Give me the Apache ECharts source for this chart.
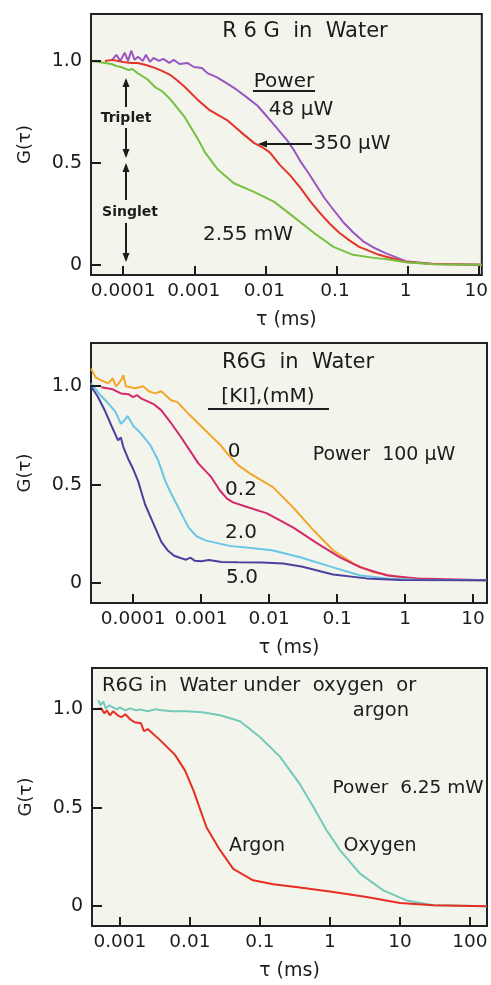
<!DOCTYPE html>
<html>
<head>
<meta charset="utf-8">
<script src="https://cdn.jsdelivr.net/npm/echarts@6/dist/echarts.min.js"></script>
<style>
  html, body { margin: 0; padding: 0; background: #fff; }
  #chart { width: 491px; height: 985px; }
</style>
</head>
<body>
<div id="chart"></div>
<script>
// panel 1: R6G in water, three excitation powers
const tau48 = [6.8e-5, 8e-5, 9.1e-5, 1.05e-4, 1.17e-4, 1.3e-4, 1.45e-4, 1.62e-4, 1.9e-4, 2.1e-4, 2.4e-4, 2.7e-4, 3.2e-4, 3.7e-4, 4.5e-4, 5.2e-4, 6.3e-4, 8.1e-4, 1.0e-3, 1.3e-3, 1.56e-3, 2.1e-3, 2.95e-3, 4.0e-3, 5.7e-3, 8e-3, 0.011, 0.015, 0.021, 0.026, 0.032, 0.042, 0.05, 0.07, 0.095, 0.13, 0.18, 0.25, 0.35, 0.52, 1.0, 2.5, 12];
const g48 = [1.0, 1.03, 1.0, 1.04, 1.0, 1.05, 1.005, 1.02, 1.0, 1.03, 0.995, 1.015, 1.0, 1.01, 0.99, 1.005, 0.985, 0.99, 0.97, 0.965, 0.94, 0.92, 0.89, 0.86, 0.82, 0.78, 0.725, 0.67, 0.61, 0.564, 0.51, 0.45, 0.41, 0.33, 0.27, 0.21, 0.16, 0.115, 0.085, 0.057, 0.018, 0.004, 0];

const tau350 = [5.5e-5, 7e-5, 1.0e-4, 1.3e-4, 1.6e-4, 2.1e-4, 2.8e-4, 3.6e-4, 4.7e-4, 5.8e-4, 7.4e-4, 1.13e-3, 1.65e-3, 2.95e-3, 4.6e-3, 7.1e-3, 0.0095, 0.012, 0.0165, 0.023, 0.032, 0.045, 0.061, 0.085, 0.115, 0.16, 0.22, 0.42, 1.0, 2.5, 12];
const g350 = [1.0, 1.005, 0.995, 0.99, 0.99, 0.98, 0.966, 0.95, 0.93, 0.905, 0.873, 0.81, 0.76, 0.71, 0.652, 0.598, 0.575, 0.55, 0.49, 0.44, 0.38, 0.31, 0.255, 0.2, 0.157, 0.12, 0.088, 0.049, 0.014, 0.004, 0];

const tau255 = [3.5e-5, 4.5e-5, 5.5e-5, 6.8e-5, 8e-5, 9.3e-5, 1.2e-4, 1.35e-4, 1.6e-4, 2.2e-4, 2.8e-4, 3.6e-4, 4.7e-4, 7.4e-4, 1.13e-3, 1.45e-3, 2.15e-3, 3.7e-3, 7.1e-3, 0.0136, 0.026, 0.05, 0.095, 0.18, 0.35, 0.52, 1.0, 2.5, 12];
const g255 = [1.0, 0.995, 0.99, 0.985, 0.975, 0.97, 0.955, 0.96, 0.94, 0.91, 0.873, 0.85, 0.81, 0.725, 0.62, 0.55, 0.47, 0.40, 0.358, 0.31, 0.235, 0.157, 0.088, 0.049, 0.034, 0.028, 0.012, 0.003, 0];

// panel 2: KI quenching at 100 uW
const tauKI0 = [2.4e-5, 2.8e-5, 3.4e-5, 4.3e-5, 5.0e-5, 5.6e-5, 6.6e-5, 7.2e-5, 7.8e-5, 1.07e-4, 1.4e-4, 1.7e-4, 2.1e-4, 2.6e-4, 3.6e-4, 4.5e-4, 6.4e-4, 1.15e-3, 1.95e-3, 2.4e-3, 3.5e-3, 5.2e-3, 0.0115, 0.0224, 0.045, 0.087, 0.174, 0.34, 0.85, 2.5, 16];
const gKI0 = [1.09, 1.046, 1.03, 1.015, 1.04, 1.0, 1.03, 1.056, 1.0, 0.99, 1.0, 0.975, 0.964, 0.975, 0.929, 0.92, 0.863, 0.777, 0.70, 0.66, 0.60, 0.558, 0.487, 0.386, 0.269, 0.168, 0.10, 0.056, 0.03, 0.018, 0.015];

const tauKI02 = [3.4e-5, 5e-5, 6.6e-5, 8.5e-5, 1.0e-4, 1.15e-4, 1.3e-4, 1.6e-4, 2.0e-4, 2.6e-4, 3.5e-4, 5.1e-4, 9.1e-4, 1.4e-3, 1.9e-3, 2.4e-3, 2.95e-3, 4.5e-3, 9.3e-3, 0.0224, 0.051, 0.11, 0.22, 0.55, 1.5, 16];
const gKI02 = [0.995, 0.985, 0.964, 0.96, 0.945, 0.955, 0.939, 0.925, 0.91, 0.878, 0.82, 0.74, 0.609, 0.54, 0.47, 0.43, 0.411, 0.39, 0.355, 0.284, 0.203, 0.132, 0.081, 0.04, 0.025, 0.015];

const tauKI20 = [2.4e-5, 3.2e-5, 4.3e-5, 5.5e-5, 6.6e-5, 7.6e-5, 8.3e-5, 1.0e-4, 1.31e-4, 1.8e-4, 2.33e-4, 2.96e-4, 3.6e-4, 4.6e-4, 6.5e-4, 8.5e-4, 1.15e-3, 2.6e-3, 5e-3, 0.011, 0.0286, 0.087, 0.22, 0.55, 1.5, 16];
const gKI20 = [1.015, 0.96, 0.914, 0.87, 0.81, 0.83, 0.85, 0.80, 0.76, 0.70, 0.625, 0.52, 0.457, 0.386, 0.284, 0.24, 0.218, 0.19, 0.18, 0.168, 0.132, 0.081, 0.04, 0.025, 0.018, 0.015];

const tauKI50 = [2.4e-5, 3.0e-5, 3.8e-5, 4.8e-5, 6.0e-5, 6.6e-5, 7.2e-5, 8.5e-5, 1.0e-4, 1.18e-4, 1.5e-4, 2.1e-4, 2.6e-4, 3.2e-4, 4.0e-4, 5.1e-4, 6e-4, 7e-4, 8e-4, 1.0e-3, 1.3e-3, 2e-3, 3.5e-3, 8e-3, 0.016, 0.03, 0.087, 0.27, 0.84, 16];
const gKI50 = [1.0, 0.95, 0.88, 0.80, 0.726, 0.74, 0.69, 0.63, 0.58, 0.52, 0.40, 0.284, 0.21, 0.168, 0.14, 0.127, 0.12, 0.13, 0.115, 0.112, 0.118, 0.108, 0.107, 0.106, 0.10, 0.085, 0.045, 0.025, 0.017, 0.015];

// panel 3: oxygen vs argon at 6.25 mW
const tauO2 = [4.9e-4, 5.3e-4, 5.8e-4, 6.3e-4, 7e-4, 8e-4, 9e-4, 1.0e-3, 1.2e-3, 1.4e-3, 1.7e-3, 1.93e-3, 2.5e-3, 3.2e-3, 4e-3, 5.5e-3, 8.95e-3, 0.015, 0.027, 0.052, 0.1, 0.193, 0.372, 0.578, 0.895, 1.39, 2.69, 5.78, 12.4, 30, 175];
const gO2 = [1.047, 1.02, 1.04, 1.005, 1.02, 1.01, 1.0, 1.01, 0.995, 1.005, 0.995, 1.0, 0.99, 1.0, 0.995, 0.99, 0.99, 0.985, 0.97, 0.94, 0.86, 0.76, 0.62, 0.505, 0.386, 0.285, 0.166, 0.081, 0.03, 0.005, 0];

const tauAr = [4.5e-4, 5.4e-4, 6e-4, 6.5e-4, 7.2e-4, 8e-4, 9.3e-4, 1.05e-3, 1.2e-3, 1.4e-3, 1.63e-3, 2.0e-3, 2.2e-3, 2.5e-3, 3.85e-3, 6.1e-3, 8.5e-3, 0.0112, 0.0173, 0.027, 0.0416, 0.08, 0.155, 0.372, 1.12, 3.34, 10, 30, 175];
const gAr = [1.0, 1.005, 0.98, 0.995, 0.97, 0.99, 0.97, 0.96, 0.975, 0.95, 0.934, 0.93, 0.89, 0.9, 0.84, 0.77, 0.69, 0.59, 0.40, 0.285, 0.19, 0.132, 0.112, 0.095, 0.073, 0.047, 0.017, 0.005, 0];

// tick positions
const yTicks = [0, 0.5, 1.0];
const tauTicks12 = [1e-4, 1e-3, 0.01, 0.1, 1, 10];
const tauTicks3 = [1e-3, 0.01, 0.1, 1, 10, 100];

const FONT = "DejaVu Sans";
const INK = "#1c1c1c";

function zip(xs, ys) {
  return xs.map((x, i) => [x, ys[i]]);
}

function tauLabel(v) {
  const lg = Math.log10(v);
  const e = Math.round(lg);
  if (Math.abs(lg - e) > 1e-6) return "";
  return e < 0 ? v.toFixed(-e) : String(Math.round(v));
}

function gLabel(v) {
  if (Math.abs(v) < 1e-9) return "0";
  if (Math.abs(v - 0.5) < 1e-9 || Math.abs(v - 1) < 1e-9) return v.toFixed(1);
  return "";
}

const grids = [
  { left: 91, top: 14, width: 394, height: 261 },
  { left: 91, top: 343, width: 396, height: 260 },
  { left: 92, top: 668, width: 395, height: 258 },
];
const xRanges = [[3.5e-5, 12], [2.4e-5, 16], [4e-4, 175]];
const yRanges = [[-0.05, 1.23], [-0.1, 1.22], [-0.1, 1.21]];
const xTickSets = [tauTicks12, tauTicks12, tauTicks3];

const chart = echarts.init(document.getElementById("chart"));

const option = {
  animation: false,
  backgroundColor: "#ffffff",
  grid: grids.map((g) => ({
    ...g,
    show: true,
    backgroundColor: "#f3f5ec",
    borderColor: "#222",
    borderWidth: 2,
  })),
  xAxis: xRanges.map((r, i) => ({
    type: "log",
    gridIndex: i,
    min: r[0],
    max: r[1],
    name: "τ (ms)",
    nameLocation: "middle",
    nameGap: 36,
    nameTextStyle: { fontFamily: FONT, fontSize: 19, color: INK },
    axisLine: { show: false, onZero: false },
    axisTick: { show: false },
    axisLabel: {
      formatter: tauLabel,
      showMinLabel: false,
      showMaxLabel: false,
      fontFamily: FONT,
      fontSize: 18.5,
      color: INK,
      margin: 7,
    },
    splitLine: { show: false },
    minorTick: { show: false },
  })),
  yAxis: yRanges.map((r, i) => ({
    type: "value",
    gridIndex: i,
    min: r[0],
    max: r[1],
    splitNumber: 2,
    name: "G(τ)",
    nameLocation: "middle",
    nameGap: 57,
    nameTextStyle: { fontFamily: FONT, fontSize: 18, color: INK },
    axisLine: { show: false, onZero: false },
    axisTick: { show: false },
    axisLabel: {
      formatter: gLabel,
      showMinLabel: false,
      showMaxLabel: false,
      fontFamily: FONT,
      fontSize: 19,
      color: INK,
      margin: 9,
    },
    splitLine: { show: false },
  })),
  series: [
    { name: "48 μW", data: zip(tau48, g48), color: "#9a55c4", xAxisIndex: 0, yAxisIndex: 0 },
    { name: "350 μW", data: zip(tau350, g350), color: "#e5322a", xAxisIndex: 0, yAxisIndex: 0 },
    { name: "2.55 mW", data: zip(tau255, g255), color: "#78c043", xAxisIndex: 0, yAxisIndex: 0 },
    { name: "KI 0", data: zip(tauKI0, gKI0), color: "#f2a62a", xAxisIndex: 1, yAxisIndex: 1 },
    { name: "KI 0.2", data: zip(tauKI02, gKI02), color: "#d4286c", xAxisIndex: 1, yAxisIndex: 1 },
    { name: "KI 2.0", data: zip(tauKI20, gKI20), color: "#69c6e6", xAxisIndex: 1, yAxisIndex: 1 },
    { name: "KI 5.0", data: zip(tauKI50, gKI50), color: "#4d3f9e", xAxisIndex: 1, yAxisIndex: 1 },
    { name: "Oxygen", data: zip(tauO2, gO2), color: "#74c9b9", xAxisIndex: 2, yAxisIndex: 2 },
    { name: "Argon", data: zip(tauAr, gAr), color: "#e62e22", xAxisIndex: 2, yAxisIndex: 2 },
  ].map((s) => ({
    ...s,
    type: "line",
    showSymbol: false,
    lineStyle: { width: 2, color: s.color },
    z: 3,
  })),
};

// annotations placed on the picture
function txt(text, x, y, size, align, extra) {
  return {
    type: "text",
    z: 10,
    style: Object.assign({
      text: text,
      x: x,
      y: y,
      font: (size || 18) + "px '" + FONT + "'",
      fill: INK,
      align: align || "center",
      verticalAlign: "middle",
    }, extra || {}),
  };
}
function seg(x1, y1, x2, y2) {
  return { type: "line", z: 10, shape: { x1, y1, x2, y2 }, style: { stroke: INK, lineWidth: 2 } };
}
function head(x, y, dir) {
  // small filled arrow head, tip at (x, y)
  let pts;
  if (dir === "up") pts = [[x, y], [x - 3.5, y + 9], [x + 3.5, y + 9]];
  else if (dir === "down") pts = [[x, y], [x - 3.5, y - 9], [x + 3.5, y - 9]];
  else pts = [[x, y], [x + 9, y - 3.5], [x + 9, y + 3.5]];
  return { type: "polygon", z: 10, shape: { points: pts }, style: { fill: INK } };
}

const notes = [
  // panel 1
  txt("R 6 G  in  Water", 305, 32, 21),
  txt("Power", 284, 82, 20),
  seg(253, 91, 315, 91),
  txt("48 μW", 301, 110, 20),
  txt("350 μW", 352, 144, 20),
  seg(262, 144, 312, 144),
  head(258, 144, "left"),
  txt("2.55 mW", 248, 235, 20),
  txt("Triplet", 126, 118, 14, "center", { font: "bold 14px '" + FONT + "'" }),
  seg(126, 80, 126, 107),
  head(126, 78, "up"),
  seg(126, 128, 126, 156),
  head(126, 158, "down"),
  txt("Singlet", 130, 212, 14, "center", { font: "bold 14px '" + FONT + "'" }),
  seg(126, 165, 126, 200),
  head(126, 163, "up"),
  seg(126, 223, 126, 260),
  head(126, 262, "down"),
  // panel 2
  txt("R6G  in  Water", 298, 363, 21),
  txt("[KI],(mM)", 268, 397, 20),
  seg(208, 409, 329, 409),
  txt("0", 234, 452, 20),
  txt("Power  100 μW", 384, 455, 19),
  txt("0.2", 241, 490, 20),
  txt("2.0", 241, 533, 20),
  txt("5.0", 242, 578, 20),
  // panel 3
  txt("R6G in  Water under  oxygen  or", 102, 686, 19.5, "left"),
  txt("argon", 381, 711, 19.5),
  txt("Power  6.25 mW", 408, 788, 18.5),
  txt("Argon", 257, 846, 19),
  txt("Oxygen", 380, 846, 19),
];

// inward frame ticks: map tick values to pixels with each panel's own axis range
function tickX(i, t) {
  const g = grids[i];
  const a = Math.log10(xRanges[i][0]);
  const b = Math.log10(xRanges[i][1]);
  return g.left + g.width * (Math.log10(t) - a) / (b - a);
}
function tickY(i, v) {
  const g = grids[i];
  const lo = yRanges[i][0];
  const hi = yRanges[i][1];
  return g.top + g.height * (hi - v) / (hi - lo);
}

const tickMarks = [];
grids.forEach((g, i) => {
  yTicks.forEach((v) => {
    const y = Math.round(tickY(i, v));
    tickMarks.push(seg(g.left, y, g.left + 10, y));
  });
  xTickSets[i].forEach((t) => {
    const x = Math.round(tickX(i, t));
    const yb = g.top + g.height;
    tickMarks.push(seg(x, yb, x, yb - 9));
  });
});

option.graphic = { elements: notes.concat(tickMarks) };

chart.setOption(option);
</script>
</body>
</html>
